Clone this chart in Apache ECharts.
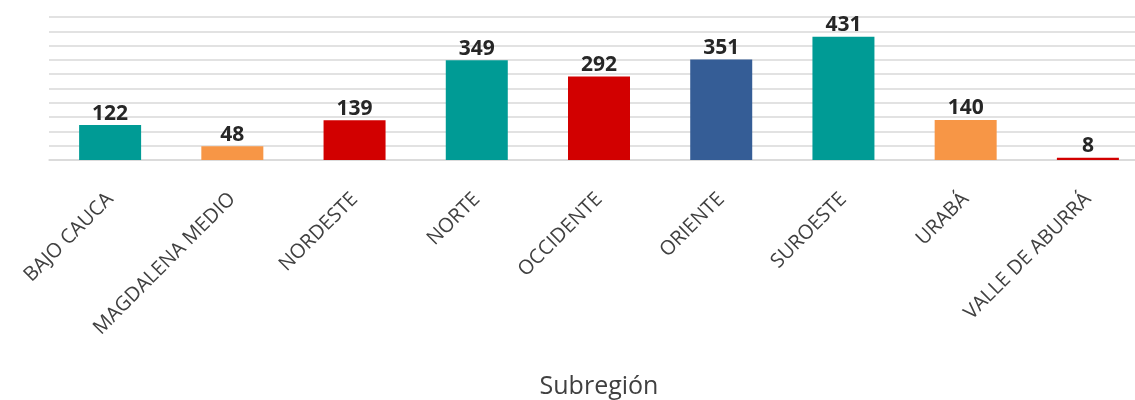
<!DOCTYPE html>
<html>
<head>
<meta charset="utf-8">
<script src="https://cdn.jsdelivr.net/npm/echarts@6/dist/echarts.min.js"></script>
<style>html,body{margin:0;padding:0;background:#fff}#c{width:1135px;height:400px}</style>
</head>
<body>
<div id="c"></div>
<script>
const categories = ['BAJO CAUCA','MAGDALENA MEDIO','NORDESTE','NORTE','OCCIDENTE','ORIENTE','SUROESTE','URABÁ','VALLE DE ABURRÁ'];
const values = [122, 48, 139, 349, 292, 351, 431, 140, 8];
const barColors = ['#009B95','#F79646','#D20000','#009B95','#D20000','#355D96','#009B95','#F79646','#D20000'];
const axisTitle = 'Subregión';

const chart = echarts.init(document.getElementById('c'));
chart.setOption({
  animation: false,
  grid: { left: 49, top: 17, width: 1100, bottom: 240, containLabel: false, outerBoundsMode: 'none' },
  xAxis: {
    type: 'category',
    data: categories,
    name: axisTitle,
    nameLocation: 'middle',
    nameGap: 214,
    nameTextStyle: { fontFamily: 'Open Sans', fontSize: 25, color: '#404040' },
    axisLine: { lineStyle: { color: '#D9D9D9', width: 1.5 } },
    axisTick: { show: false },
    axisLabel: { rotate: 45, margin: 36, fontFamily: 'Open Sans', fontSize: 20, color: '#404040', interval: 0 }
  },
  yAxis: {
    type: 'value',
    min: 0, max: 500, interval: 50,
    axisLabel: { show: false },
    axisLine: { show: false },
    axisTick: { show: false },
    splitLine: { lineStyle: { color: '#D9D9D9', width: 1.5 } }
  },
  series: [{
    type: 'bar',
    data: values.map((v, i) => ({ value: v, itemStyle: { color: barColors[i] } })),
    barWidth: 62,
    label: { show: true, position: 'top', distance: 1, fontFamily: 'Open Sans', fontWeight: 'bold', fontSize: 21, color: '#262626' }
  }]
});
</script>
</body>
</html>
